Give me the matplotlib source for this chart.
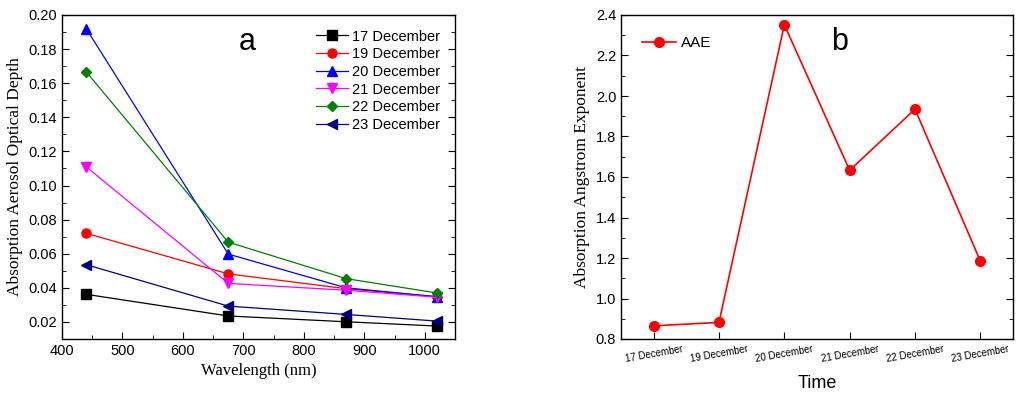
import matplotlib
matplotlib.use('Agg')
import matplotlib.pyplot as plt
from matplotlib.ticker import MultipleLocator

wavelength = [440, 675, 870, 1020]
aaod_17 = [0.0362, 0.0235, 0.0201, 0.0176]
aaod_19 = [0.0720, 0.0482, 0.0395, 0.0348]
aaod_20 = [0.1920, 0.0598, 0.0400, 0.0348]
aaod_21 = [0.1110, 0.0426, 0.0386, 0.0345]
aaod_22 = [0.1667, 0.0668, 0.0454, 0.0370]
aaod_23 = [0.0536, 0.0293, 0.0244, 0.0205]

days = ['17 December', '19 December', '20 December', '21 December', '22 December', '23 December']
aae = [0.865, 0.882, 2.352, 1.633, 1.935, 1.185]

serif = 'Liberation Serif'
sans = 'Liberation Sans'
plt.rcParams['font.family'] = sans

fig = plt.figure(figsize=(10.24, 3.99), dpi=100)
ax1 = fig.add_axes([62/1024, 1 - 339/399, 393/1024, 324/399])
ax2 = fig.add_axes([621/1024, 1 - 339/399, 392/1024, 324/399])

# panel a
series = [
    (aaod_17, 'k', 's', '17 December'),
    (aaod_19, 'red', 'o', '19 December'),
    (aaod_20, 'blue', '^', '20 December'),
    (aaod_21, 'magenta', 'v', '21 December'),
    (aaod_22, 'green', 'D', '22 December'),
    (aaod_23, 'navy', '<', '23 December'),
]
for y, c, m, lab in series:
    ms = 5.5 if m == 'D' else 6.5
    ax1.plot(wavelength, y, color=c, marker=m, ms=ms, lw=0.9, label=lab)

ax1.set_xlim(400, 1050)
ax1.set_ylim(0.01, 0.20)
ax1.xaxis.set_major_locator(MultipleLocator(100))
ax1.xaxis.set_minor_locator(MultipleLocator(50))
ax1.yaxis.set_major_locator(MultipleLocator(0.02))
ax1.yaxis.set_minor_locator(MultipleLocator(0.01))
ax1.yaxis.set_major_formatter(plt.FormatStrFormatter('%.2f'))
ax1.set_xlabel('Wavelength (nm)', family=serif, fontsize=12)
ax1.set_ylabel('Absorption Aerosol Optical Depth', family=serif, fontsize=12.5)
ax1.text(707, 0.184, 'a', fontsize=22, ha='center', va='center')
ax1.legend(loc='upper right', frameon=False, fontsize=10.5, handlelength=2.2,
           handletextpad=0.3, labelspacing=0.25, borderaxespad=0.6)

# panel b
x = list(range(len(days)))
ax2.plot(x, aae, color='red', marker='o', ms=7, lw=1.2, label='AAE')
ax2.set_xlim(-0.5, 5.5)
ax2.set_ylim(0.8, 2.4)
ax2.set_xticks(x)
ax2.set_xticklabels(days, rotation=10, fontsize=7)
ax2.yaxis.set_major_locator(MultipleLocator(0.2))
ax2.yaxis.set_minor_locator(MultipleLocator(0.1))
ax2.yaxis.set_major_formatter(plt.FormatStrFormatter('%.1f'))
ax2.set_xlabel('Time', fontsize=13, labelpad=8)
ax2.set_ylabel('Absorption Angstrom Exponent', family=serif, fontsize=12.5)
ax2.text(2.85, 2.267, 'b', fontsize=22, ha='center', va='center')
ax2.legend(loc='upper left', frameon=False, fontsize=11, handlelength=2.2,
           handletextpad=0.3, borderaxespad=1.0)

for ax in (ax1, ax2):
    ax.tick_params(which='both', direction='in', top=False, right=True)
    ax.tick_params(which='major', length=5, labelsize=10.5)
    ax.tick_params(which='minor', length=3)
    for s in ax.spines.values():
        s.set_linewidth(1.0)
ax2.tick_params(axis='x', labelsize=7)

fig.savefig('out.png', dpi=100)
